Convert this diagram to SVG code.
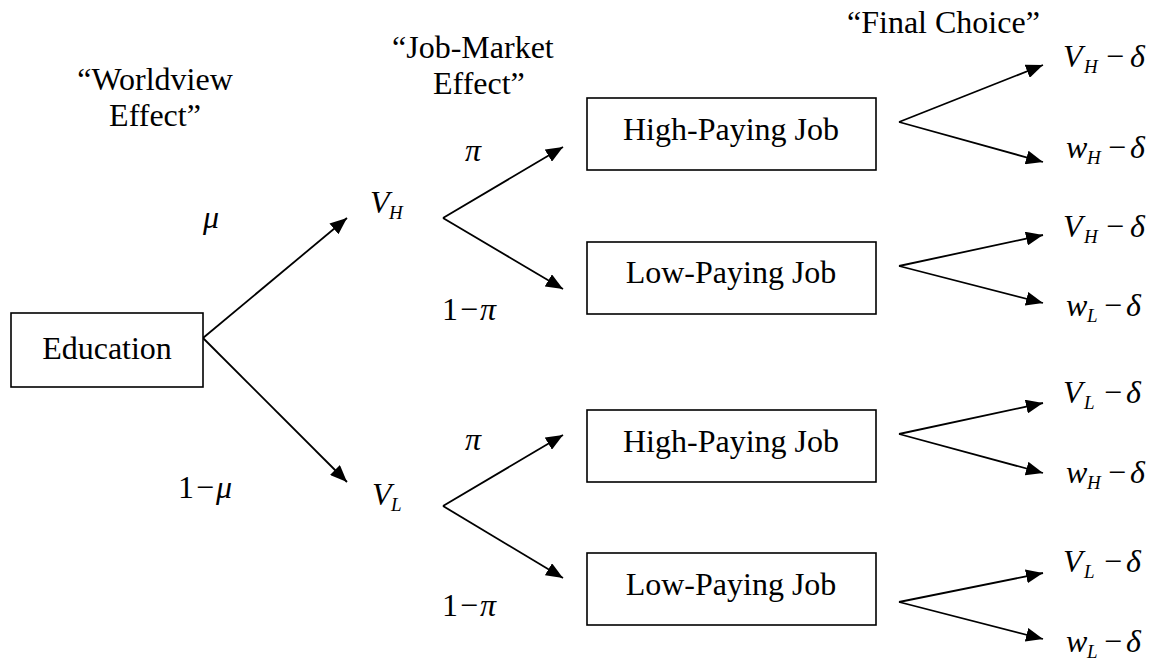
<svg xmlns="http://www.w3.org/2000/svg" width="1158" height="668" viewBox="0 0 1158 668">
<style>
text{font-family:"Liberation Serif",Tinos,"Times New Roman",Times,"Nimbus Roman","Nimbus Roman No9 L",FreeSerif,"DejaVu Serif","Noto Serif",Georgia,serif;font-size:32px;fill:#000}
.i{font-style:italic}
.s{font-size:19px;font-style:italic}
.n{font-style:normal}
.box{fill:#fff;stroke:#000;stroke-width:1.6}
.c line{stroke:#000;stroke-width:1.8;marker-end:url(#ah)}
</style>
<defs>
<marker id="ah" markerUnits="userSpaceOnUse" markerWidth="18" markerHeight="14" refX="17" refY="7" orient="auto">
<path d="M0,0 L17,7 L0,14 z" fill="#000"/>
</marker>
</defs>
<rect width="1158" height="668" fill="#fff"/>
<g id="headings">
<text x="155" y="90" text-anchor="middle">“Worldview</text>
<text x="155" y="126" text-anchor="middle">Effect”</text>
<text x="392" y="58">“Job-Market</text>
<text x="433" y="94">Effect”</text>
<text x="847" y="33">“Final Choice”</text>
</g>
<g id="connectors" class="c">
<line x1="203" y1="338" x2="347" y2="218"/>
<line x1="203" y1="338" x2="347" y2="482"/>
<line x1="443" y1="218" x2="563" y2="147"/>
<line x1="443" y1="218" x2="563" y2="289"/>
<line x1="443" y1="506" x2="563" y2="435"/>
<line x1="443" y1="506" x2="563" y2="578"/>
<line x1="899" y1="122" x2="1043" y2="65"/>
<line x1="899" y1="122" x2="1043" y2="162"/>
<line x1="899" y1="266" x2="1043" y2="235"/>
<line x1="899" y1="266" x2="1043" y2="303"/>
<line x1="899" y1="434" x2="1043" y2="403"/>
<line x1="899" y1="434" x2="1043" y2="473"/>
<line x1="899" y1="602" x2="1043" y2="573"/>
<line x1="899" y1="602" x2="1043" y2="639"/>
</g>
<g id="probabilities">
<text x="203" y="228" class="i">μ</text>
<text x="178" y="498">1<tspan x="196">−</tspan><tspan x="216" class="i">μ</tspan></text>
<text x="465" y="161" class="i">π</text>
<text x="442" y="320">1<tspan x="460">−</tspan><tspan x="480" class="i">π</tspan></text>
<text x="465" y="450" class="i">π</text>
<text x="442" y="616">1<tspan x="460">−</tspan><tspan x="480" class="i">π</tspan></text>
</g>
<g id="education">
<rect class="box" x="11" y="313" width="192" height="74"/>
<text x="107" y="359" text-anchor="middle">Education</text>
</g>
<g id="vh">
<text x="370" y="213" class="i">V<tspan x="389" y="219" class="s">H</tspan></text>
</g>
<g id="vl">
<text x="372" y="505" class="i">V<tspan x="391" y="511" class="s">L</tspan></text>
</g>
<g id="box-high-1">
<rect class="box" x="587" y="98" width="289" height="72"/>
<text x="731" y="140" text-anchor="middle">High-Paying Job</text>
</g>
<g id="box-low-1">
<rect class="box" x="587" y="242" width="289" height="72"/>
<text x="731" y="283" text-anchor="middle">Low-Paying Job</text>
</g>
<g id="box-high-2">
<rect class="box" x="587" y="410" width="289" height="72"/>
<text x="731" y="452" text-anchor="middle">High-Paying Job</text>
</g>
<g id="box-low-2">
<rect class="box" x="587" y="553" width="289" height="72"/>
<text x="731" y="595" text-anchor="middle">Low-Paying Job</text>
</g>
<g id="outcomes">
<text x="1063" y="67" class="i">V<tspan x="1084" y="73" class="s">H</tspan><tspan x="1106" y="67" class="n">−</tspan><tspan x="1130">δ</tspan></text>
<text x="1066" y="158" class="i">w<tspan x="1087" y="164" class="s">H</tspan><tspan x="1108" y="158" class="n">−</tspan><tspan x="1130">δ</tspan></text>
<text x="1063" y="237" class="i">V<tspan x="1084" y="243" class="s">H</tspan><tspan x="1106" y="237" class="n">−</tspan><tspan x="1130">δ</tspan></text>
<text x="1066" y="316" class="i">w<tspan x="1087" y="322" class="s">L</tspan><tspan x="1104" y="316" class="n">−</tspan><tspan x="1126">δ</tspan></text>
<text x="1063" y="403" class="i">V<tspan x="1084" y="409" class="s">L</tspan><tspan x="1104" y="403" class="n">−</tspan><tspan x="1126">δ</tspan></text>
<text x="1066" y="483" class="i">w<tspan x="1087" y="489" class="s">H</tspan><tspan x="1108" y="483" class="n">−</tspan><tspan x="1130">δ</tspan></text>
<text x="1063" y="572" class="i">V<tspan x="1084" y="578" class="s">L</tspan><tspan x="1104" y="572" class="n">−</tspan><tspan x="1126">δ</tspan></text>
<text x="1066" y="652" class="i">w<tspan x="1087" y="658" class="s">L</tspan><tspan x="1104" y="652" class="n">−</tspan><tspan x="1126">δ</tspan></text>
</g>
</svg>
